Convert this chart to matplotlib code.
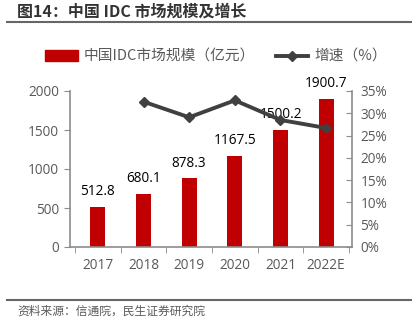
import matplotlib.pyplot as plt
from matplotlib.lines import Line2D
from matplotlib.patches import Patch
from matplotlib.ticker import FuncFormatter, MultipleLocator

plt.rcParams['font.family'] = ['Open Sans', 'Noto Sans CJK SC', 'DejaVu Sans']

years = ['2017', '2018', '2019', '2020', '2021', '2022E']
market = [512.8, 680.1, 878.3, 1167.5, 1500.2, 1900.7]
growth_years = [1, 2, 3, 4, 5]
growth = [32.6, 29.1, 32.9, 28.5, 26.7]

red = '#C00000'
dark = '#404040'
gray = '#595959'
axis_gray = '#8C8C8C'
cjk = ['Noto Sans CJK SC', 'DejaVu Sans']

W, H = 412, 321
fig = plt.figure(figsize=(W / 100, H / 100), dpi=100)

# title and the two rules
fig.text(17 / W, 1 - 12 / H, '图14：中国 IDC 市场规模及增长', fontsize=11.5,
         fontweight='bold', color='#333333', va='center', ha='left', family=cjk)
fig.add_artist(Line2D([7 / W, 1], [1 - 21.5 / H] * 2, color='#666666', lw=1.5))
fig.add_artist(Line2D([7 / W, 1], [1 - 300 / H] * 2, color='#666666', lw=1.5))
fig.text(17 / W, 1 - 311 / H, '资料来源：信通院，民生证券研究院', fontsize=8.5,
         color=gray, va='center', ha='left', family=cjk)

ax = fig.add_axes([70 / W, 74 / H, 282 / W, 156 / H])
x = list(range(len(years)))
ax.bar(x, market, width=0.33, color=red, zorder=2)
for xi, v in zip(x, market):
    ax.text(xi, v + 100, f'{v:.1f}', ha='center', va='bottom', fontsize=9.8,
            color='black', zorder=5)

ax.set_xlim(-0.61, 5.566)
ax.set_ylim(0, 2000)
ax.yaxis.set_major_locator(MultipleLocator(500))
ax.set_xticks(x)
ax.set_xticklabels(years)
ax.set_xticks([i - 0.5 for i in range(len(years) + 1)], minor=True)
ax.tick_params(axis='x', which='major', length=0, pad=8, labelsize=9.8, labelcolor=gray)
ax.tick_params(axis='x', which='minor', length=4, color=axis_gray, direction='out')
ax.tick_params(axis='y', length=4, color=axis_gray, direction='out', labelsize=9.8,
               labelcolor=gray, pad=4)
for s in ['top', 'right']:
    ax.spines[s].set_visible(False)
for s in ['left', 'bottom']:
    ax.spines[s].set_color(axis_gray)
    ax.spines[s].set_linewidth(1.2)

ax2 = ax.twinx()
ax2.plot(growth_years, growth, color=dark, lw=2.8, marker='D', markersize=5,
         zorder=3)
ax2.set_ylim(0, 35)
ax2.yaxis.set_major_locator(MultipleLocator(5))
ax2.yaxis.set_major_formatter(FuncFormatter(lambda v, p: f'{v:.0f}%'))
ax2.tick_params(axis='y', length=4, color=axis_gray, direction='in', labelsize=9.8,
                labelcolor=gray, pad=6)
for s in ['top', 'left', 'bottom']:
    ax2.spines[s].set_visible(False)
ax2.spines['right'].set_color(axis_gray)
ax2.spines['right'].set_linewidth(1.2)

handles = [Patch(color=red),
           Line2D([], [], color=dark, lw=2.8, marker='D', markersize=5)]
labels = ['中国IDC市场规模（亿元）', '增速（%）']
fig.legend(handles, labels, loc='center', bbox_to_anchor=(216 / W, 1 - 57 / H),
           ncol=2, frameon=False, handlelength=2.2,
           handleheight=0.75, columnspacing=1.4, handletextpad=0.4,
           labelcolor=gray, prop={'family': cjk, 'size': 10.6})

fig.savefig('out.png', dpi=100)
